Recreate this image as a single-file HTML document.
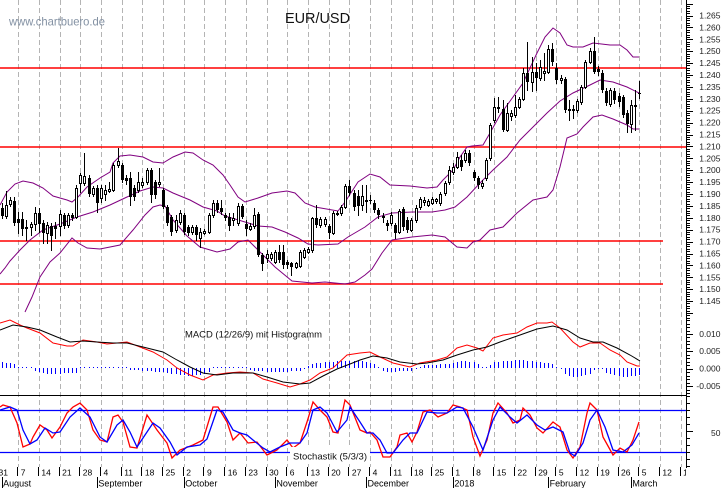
<!DOCTYPE html>
<html><head><meta charset="utf-8">
<style>
html,body{margin:0;padding:0;background:#fff;width:723px;height:488px;overflow:hidden}
svg{display:block}
text{font-family:"Liberation Sans",Arial,sans-serif}
</style></head><body>
<svg id="s" width="723" height="488" viewBox="0 0 723 488" xmlns="http://www.w3.org/2000/svg">
<defs><clipPath id="cl"><rect x="0" y="0" width="686" height="488"/></clipPath></defs>
<rect width="723" height="488" fill="#fff"/>
<path id="grid" d="" stroke="#b4b4b4" stroke-width="1" stroke-dasharray="5 3" fill="none"/>
<path d="M0 68H686M0 147H686M0 241H663M0 284H663" stroke="#f00" stroke-width="1.5" fill="none"/>
<g fill="none" stroke="#800080" stroke-width="1">
<polyline points="0,205 7,192 15,184 23,181 33,183 43,188 53,196 67,200 72,202 78,197 87,187 100,178 110,172 113,163 120,156 130,155 143,157 153,162 163,163 173,157 185,152 193,153 203,160 213,165 223,175 230,185 238,197 245,202 258,198 272,193 287,191 295,193 305,203 315,207 338,211 345,202 358,182 370,174 380,177 390,185 410,186 427,188 437,187 443,180 453,170 460,157 467,147 472,146 483,145 490,133 500,115 513,97 523,83 537,53 545,37 553,28 560,33 567,45 573,47 583,47 593,43 610,45 620,45 627,50 633,57 639,57"/>
<polyline points="0,274 5,268 10,261 20,250 30,240 43,230 60,224 77,217 93,212 110,205 127,197 140,191 153,187 163,188 173,193 190,200 203,207 217,211 225,216 245,222 258,226 272,227 285,232 298,238 308,244 318,245 338,244 348,237 365,227 378,217 392,213 412,212 432,212 445,210 455,207 467,197 480,183 493,170 507,157 520,140 533,127 547,113 560,101 573,93 590,85 600,80 613,82 627,87 639,93"/>
<polyline points="25,312 32,297 40,277 50,262 60,253 72,238 78,243 87,248 100,249 120,245 133,230 145,215 153,207 160,205 165,206 173,220 187,236 200,247 217,252 230,249 238,242 248,240 258,250 275,267 292,281 312,283 325,282 345,284 355,282 365,275 372,269 382,253 392,240 412,237 432,235 445,237 457,247 467,248 473,242 480,240 490,230 503,227 517,213 533,200 547,197 553,190 560,167 567,138 577,134 583,127 593,117 602,115 613,119 627,125 633,129 639,129"/>
</g>
<g shape-rendering="crispEdges">
<path id="wick" d="" stroke="#000" stroke-width="1" fill="none"/>
<path id="wht" d="" stroke="#000" stroke-width="1" fill="#fff"/>
<path id="blk" d="" fill="#000"/>
<path id="hist" d="" fill="#00f"/>
</g>
<polyline fill="none" stroke="#f00" stroke-width="1" points="0,323 10,320 20,325 27,328 40,333 53,343 67,346 73,346 83,340 97,342 107,344 117,343 127,342 140,347 153,352 167,360 177,368 190,375 203,380 213,375 227,373 240,372 253,373 263,379 277,383 290,387 300,384 310,380 320,373 333,368 347,355 360,353 370,352 380,357 393,363 410,367 420,363 437,360 447,357 457,348 467,345 477,348 483,351 493,338 503,335 517,333 527,327 537,323 547,323 552,322 560,328 573,342 580,347 590,343 600,343 610,350 620,355 627,362 637,366 640,366"/>
<polyline fill="none" stroke="#000" stroke-width="1" points="0,330 13,325 27,327 40,330 57,337 70,342 83,341 97,342 113,343 127,343 147,348 163,352 177,360 190,367 203,373 217,375 233,373 253,373 267,377 283,382 300,384 310,383 323,376 337,369 350,364 360,360 373,356 387,358 400,362 417,364 427,363 443,360 457,355 473,350 487,347 500,342 520,335 537,329 553,326 567,330 580,338 593,342 603,342 617,348 630,355 640,361"/>
<text x="185" y="337.5" font-size="9.5" fill="#111" textLength="137" lengthAdjust="spacingAndGlyphs">MACD (12/26/9) mit Histogramm</text>
<path d="M0 395.5H686.5" stroke="#000" stroke-width="1" fill="none"/>
<path d="M0 410.5H686M0 452.5H686" stroke="#00f" stroke-width="1.3" fill="none"/>
<polyline fill="none" stroke="#f00" stroke-width="1.3" points="0,407 3,405 10,407 17,423 23,447 30,444 33,437 40,425 47,430 52,438 60,427 67,413 73,407 80,403 87,410 93,430 100,440 107,442 113,417 118,415 123,422 130,447 137,448 147,415 157,430 167,443 172,458 180,450 193,445 203,440 213,407 218,407 227,422 233,440 240,433 248,443 257,442 267,455 277,450 287,440 293,448 300,443 307,422 313,402 320,410 327,417 333,432 338,433 345,400 350,405 360,430 367,433 370,432 377,440 383,457 390,457 397,447 400,435 407,433 412,442 417,432 423,412 430,410 438,417 447,413 453,405 460,407 467,410 473,437 480,456 487,440 493,413 498,403 507,413 513,423 520,420 523,408 530,415 537,428 543,433 553,422 560,427 567,450 573,458 580,447 587,413 590,403 597,410 603,437 613,455 620,448 627,452 633,440 639,422"/>
<polyline fill="none" stroke="#00f" stroke-width="1.3" points="0,410 10,407 17,410 23,430 30,444 37,440 45,428 53,433 60,432 70,417 80,408 90,417 100,437 107,442 117,425 123,420 130,432 137,447 143,438 153,423 160,428 170,442 177,455 187,447 200,445 207,439 217,410 223,412 233,430 240,433 247,435 253,440 263,448 270,452 280,447 290,443 300,443 307,433 313,410 320,407 327,413 337,432 347,420 350,407 360,422 367,433 373,433 380,440 387,453 393,453 403,440 410,433 417,433 427,412 437,413 447,413 457,407 463,408 473,427 483,450 493,420 500,407 510,417 517,423 527,415 537,425 545,430 553,427 563,432 570,453 575,456 583,443 590,420 597,410 605,427 613,450 623,452 632,445 639,433"/>
<rect x="290" y="447" width="80" height="15" fill="#fff"/>
<text x="293" y="459.5" font-size="9.5" fill="#111" textLength="74" lengthAdjust="spacingAndGlyphs">Stochastik (5/3/3)</text>
<path id="ticks" d="" stroke="#000" stroke-width="1" fill="none" shape-rendering="crispEdges"/>
<text x="9" y="25.5" font-size="12" fill="#8391a3" textLength="96" lengthAdjust="spacingAndGlyphs">www.chartbuero.de</text>
<text x="285" y="23" font-size="15" fill="#111" textLength="65" lengthAdjust="spacingAndGlyphs">EUR/USD</text>
<g font-size="8.5" fill="#222" text-anchor="end">
<text x="720.5" y="18.5">1.265</text><text x="720.5" y="30.4">1.260</text><text x="720.5" y="42.3">1.255</text><text x="720.5" y="54.2">1.250</text><text x="720.5" y="66.1">1.245</text><text x="720.5" y="78">1.240</text><text x="720.5" y="89.9">1.235</text><text x="720.5" y="101.8">1.230</text><text x="720.5" y="113.7">1.225</text><text x="720.5" y="125.6">1.220</text><text x="720.5" y="137.5">1.215</text><text x="720.5" y="149.4">1.210</text><text x="720.5" y="161.3">1.205</text><text x="720.5" y="173.2">1.200</text><text x="720.5" y="185.1">1.195</text><text x="720.5" y="197">1.190</text><text x="720.5" y="208.9">1.185</text><text x="720.5" y="220.8">1.180</text><text x="720.5" y="232.7">1.175</text><text x="720.5" y="244.6">1.170</text><text x="720.5" y="256.5">1.165</text><text x="720.5" y="268.4">1.160</text><text x="720.5" y="280.3">1.155</text><text x="720.5" y="292.2">1.150</text><text x="720.5" y="304.1">1.145</text>
<text x="720.5" y="337">0.010</text><text x="720.5" y="354">0.005</text><text x="720.5" y="371.5">0.000</text><text x="720.5" y="389">-0.005</text>
<text x="720.5" y="436">50</text>
</g>
<g clip-path="url(#cl)" fill="#000">
<g font-size="8.5">
<text x="-1.5" y="475.5">31</text><text x="20.7" y="475.5">7</text><text x="41.4" y="475.5">14</text><text x="62.1" y="475.5">21</text><text x="82.8" y="475.5">28</text><text x="103.5" y="475.5">4</text><text x="124.2" y="475.5">11</text><text x="144.9" y="475.5">18</text><text x="165.6" y="475.5">25</text><text x="186.3" y="475.5">2</text><text x="207" y="475.5">9</text><text x="227.7" y="475.5">16</text><text x="248.4" y="475.5">23</text><text x="269.1" y="475.5">30</text><text x="289.8" y="475.5">6</text><text x="310.5" y="475.5">13</text><text x="331.2" y="475.5">20</text><text x="351.9" y="475.5">27</text><text x="372.6" y="475.5">4</text><text x="393.3" y="475.5">11</text><text x="414" y="475.5">18</text><text x="434.7" y="475.5">25</text><text x="455.4" y="475.5">1</text><text x="476.1" y="475.5">8</text><text x="496.8" y="475.5">15</text><text x="517.5" y="475.5">22</text><text x="538.2" y="475.5">29</text><text x="558.9" y="475.5">5</text><text x="579.6" y="475.5">12</text><text x="600.3" y="475.5">19</text><text x="621" y="475.5">26</text><text x="641.7" y="475.5">5</text><text x="662.4" y="475.5">12</text><text x="683.1" y="475.5">19</text>
</g>
<g font-size="9">
<text x="3.1" y="486.5">August</text><text x="98.4" y="486.5">September</text><text x="185.3" y="486.5">October</text><text x="276.4" y="486.5">November</text><text x="367.5" y="486.5">December</text><text x="454.4" y="486.5">2018</text><text x="549.6" y="486.5">February</text><text x="632.4" y="486.5">March</text>
</g>
</g>
</svg>
<script>
(function(){
var gd='';
for(var k=0;k<=32;k++){var x=Math.round(18.2+20.7*k)+0.5;gd+='M'+x+' 0V467';}
document.getElementById('grid').setAttribute('d',gd);
var C=[[214,205,216,208],[208,203,218,216],[216,191,218,205],[204,197,206,200],[201,197,225,223],[219,212,233,223],[219,212,235,229],[227,220,240,229],[227,222,235,224],[224,207,230,213],[213,208,232,224],[223,220,243,233],[233,222,243,225],[226,223,250,236],[226,222,238,229],[226,210,235,214],[215,213,228,226],[225,213,227,215],[215,213,220,218],[217,185,218,188],[183,173,192,175],[183,153,185,176],[178,175,196,194],[194,186,196,188],[188,185,212,203],[198,185,202,188],[194,185,200,190],[191,182,192,189],[190,163,191,165],[165,148,167,161],[165,163,182,180],[178,175,184,181],[178,172,205,197],[188,185,200,197],[190,172,192,182],[185,178,187,182],[182,168,184,170],[170,168,202,195],[182,180,198,195],[184,168,186,182],[190,188,208,207],[207,205,225,223],[217,215,235,232],[230,215,232,220],[222,210,224,213],[215,213,234,232],[227,225,235,233],[232,225,234,227],[227,225,240,235],[238,228,247,232],[233,229,234,231],[232,213,233,215],[215,200,217,203],[203,200,212,210],[208,200,214,212],[215,213,220,218],[217,213,230,226],[220,213,225,218],[223,203,225,206],[206,204,218,217],[224,220,235,229],[229,223,230,226],[226,208,228,215],[214,212,256,255],[255,253,270,264],[258,250,262,254],[258,252,260,254],[262,250,263,252],[252,245,262,260],[252,245,268,265],[262,260,268,265],[263,262,275,267],[267,262,268,263],[266,250,267,252],[257,248,258,250],[252,247,253,249],[250,217,252,218],[218,205,227,225],[225,217,227,219],[224,217,226,219],[226,224,238,233],[233,211,234,213],[214,211,215,213],[213,205,215,207],[207,184,208,186],[186,180,195,193],[193,190,210,207],[196,190,215,206],[205,185,210,196],[201,185,212,200],[200,195,203,201],[203,200,212,210],[210,208,218,215],[217,213,222,216],[223,220,230,226],[223,212,225,215],[225,223,238,233],[232,209,233,211],[209,207,230,227],[220,217,232,230],[230,218,231,220],[220,205,222,208],[207,197,209,199],[202,197,205,200],[205,199,206,201],[203,197,204,199],[201,198,203,199],[203,192,205,194],[193,181,195,183],[182,166,184,170],[172,163,174,167],[167,152,168,157],[160,155,170,167],[160,150,162,153],[153,150,165,163],[172,170,180,178],[178,176,188,185],[186,180,188,183],[178,158,180,160],[158,123,160,125],[120,98,122,107],[108,97,112,107],[109,100,131,130],[130,103,131,113],[116,110,120,113],[115,95,117,107],[107,97,108,99],[99,68,100,73],[73,42,90,82],[82,57,91,72],[72,63,90,78],[78,60,80,67],[73,53,80,71],[72,45,73,49],[49,43,65,62],[68,63,83,80],[80,75,83,78],[79,77,112,110],[110,100,120,109],[110,105,118,109],[110,99,112,101],[102,85,104,87],[87,60,88,62],[62,48,63,51],[51,37,73,72],[69,66,75,72],[73,70,92,90],[91,88,105,103],[104,88,106,90],[91,88,103,100],[96,93,106,102],[97,95,117,115],[113,110,132,124],[124,100,132,105],[106,90,130,105],[93,81,98,93]];
var wk='',wh='',bk='';
for(var i=0;i<C.length;i++){
 var R=Math.round(-2.5+4.14*i),o=C[i][0],h=C[i][1],l=C[i][2],c=C[i][3];
 wk+='M'+(R+0.5)+' '+h+'V'+(l+1);
 var t=Math.min(o,c),b=Math.max(o,c);
 if(c<o){wh+='M'+(R-0.5)+' '+(t+0.5)+'h2v'+(b-t)+'h-2z';}
 else{bk+='M'+(R-1)+' '+t+'h3v'+Math.max(1,b-t)+'h-3z';}
}
document.getElementById('wick').setAttribute('d',wk);
document.getElementById('wht').setAttribute('d',wh);
document.getElementById('blk').setAttribute('d',bk);
var HP=[[0,6],[15,4],[18,0],[33,0],[36,-4],[50,-6],[77,-5],[80,0],[125,0],[130,-2],[163,-4],[167,-5],[190,-8],[207,-6],[212,0],[245,0],[253,-3],[280,-4],[300,-3],[305,0],[310,4],[340,7],[360,7],[375,4],[379,-1],[385,-4],[413,-3],[418,0],[423,3],[450,4],[460,7],[477,6],[480,0],[488,0],[492,6],[520,8],[540,6],[553,4],[557,0],[561,-1],[565,-6],[575,-10],[590,-6],[595,-1],[603,-1],[607,-6],[625,-9],[640,-7]];
function ip(P,x){if(x<=P[0][0])return P[0][1];for(var j=1;j<P.length;j++){if(x<=P[j][0]){var f=(x-P[j-1][0])/(P[j][0]-P[j-1][0]);return P[j-1][1]+f*(P[j][1]-P[j-1][1]);}}return P[P.length-1][1];}
var hd='';
for(var i=0;i<156;i++){var R=Math.round(-2.5+4.14*i);if(R<0)continue;var v=Math.round(ip(HP,R));if(v===0)v=1;
 if(v>0)hd+='M'+R+' '+(368-v)+'h1v'+v+'h-1z';else hd+='M'+R+' 368h1v'+(-v)+'h-1z';}
document.getElementById('hist').setAttribute('d',hd);
var td='M686.5 0V468';
for(var j=-5;j<=130;j++){var y=15.5+j*2.38;if(y<0.5||y>318)continue;td+='M686 '+(Math.round(y)+0.5)+'h'+(j%5===0?7:4);}
for(var v=-7;v<=14;v++){var y=368.7-v*3.467;td+='M686 '+(Math.round(y)+0.5)+'h'+(v%5===0?7:4);}
for(var u=0;u<=100;u+=10){var y=466-u*0.7;td+='M686 '+(Math.round(y)+0.5)+'h'+(u===50?7:4);}
for(var k=0;k<=32;k++){var x=Math.round(18.2+20.7*k)-0.5;td+='M'+x+' 467V476';}
var ms=[1.64,96.9,183.8,274.9,366.0,452.9,548.1,630.9];
for(var m=0;m<ms.length;m++){td+='M'+(Math.round(ms[m])+0.5)+' 477V488';}
document.getElementById('ticks').setAttribute('d',td);
})();
</script>
</body></html>
